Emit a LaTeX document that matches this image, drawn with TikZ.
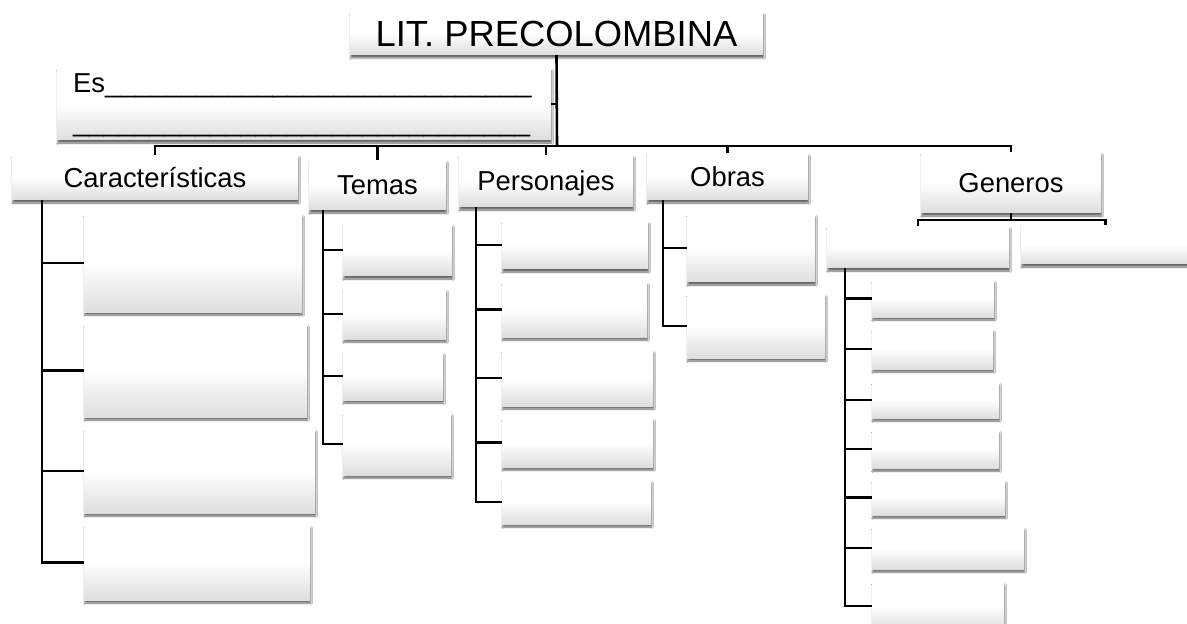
\documentclass[tikz,border=0pt]{standalone}
\usepackage{fontspec}
\setmainfont{Liberation Sans}
\usetikzlibrary{shadows.blur}
\newcommand\bx[7][]{\node[box, minimum width={(#5-#3)*1bp}, minimum height={(#6-#4)*1bp}, anchor=north west, #1] (#2) at (#3,#4) {#7};}
\begin{document}
\begin{tikzpicture}[x=1bp,y=-1bp,
  box/.style={shade, top color=white, bottom color=black!13, middle color=white,
    inner sep=0pt, outer sep=0pt,
    blur shadow={shadow xshift=0.8bp, shadow yshift=-3bp, shadow blur radius=1.8bp, shadow opacity=60}},
  lbl/.style={font=\fontsize{27.5}{33}\selectfont, text height=19.7bp, text depth=0bp},
  big/.style={font=\fontsize{36.5}{40}\selectfont, text height=26.1bp, text depth=0bp},
  conn/.style={line width=2.6bp, black}]
\useasboundingbox[fill=white] (0,0) rectangle (1187,624);
% main boxes
\bx[big]{title}{350}{12}{763}{55}{LIT. PRECOLOMBINA}
\bx{es}{57}{68}{551}{140}{}
\node[anchor=base west, align=left, font=\fontsize{27.5}{40}\selectfont, inner sep=0pt] (est) at (73,132)
  {Es\_\_\_\_\_\_\_\_\_\_\_\_\_\_\_\_\_\_\_\_\_\_\_\_\_\_\_\_\\
   \_\_\_\_\_\_\_\_\_\_\_\_\_\_\_\_\_\_\_\_\_\_\_\_\_\_\_\_\_\_};
\bx[lbl]{car}{12}{155}{298}{200}{Características}
\bx[lbl]{tem}{309}{160}{446}{210}{Temas}
\bx[lbl]{per}{459}{155}{633}{207}{Personajes}
\bx[lbl]{obr}{647}{153}{808}{200}{Obras}
\bx[lbl]{gen}{921}{152}{1101}{213}{Generos}
% Caracteristicas children
\bx{c1}{84}{214}{302}{312}{}
\bx{c2}{84}{324}{307}{417}{}
\bx{c3}{84}{429}{315}{513}{}
\bx{c4}{84}{525}{310}{600}{}
% Temas children
\bx{t1}{343}{224}{452}{276}{}
\bx{t2}{343}{289}{446}{339}{}
\bx{t3}{343}{352}{443}{400}{}
\bx{t4}{343}{413}{451}{475}{}
% Personajes children
\bx{p1}{502}{221}{648}{269}{}
\bx{p2}{502}{282}{647}{337}{}
\bx{p3}{502}{350}{653}{406}{}
\bx{p4}{502}{418}{653}{467}{}
\bx{p5}{502}{480}{651}{524}{}
% Obras children
\bx{o1}{687}{214}{815}{282}{}
\bx{o2}{687}{294}{825}{358}{}
% Generos children
\bx{g1}{827}{226}{1009}{268}{}
\bx{g2}{1021}{225}{1190}{264}{}
\bx{s1}{872}{280}{994}{317}{}
\bx{s2}{872}{329}{993}{369}{}
\bx{s3}{872}{382}{999}{418}{}
\bx{s4}{872}{430}{999}{468}{}
\bx{s5}{872}{480}{1005}{515}{}
\bx{s6}{872}{527}{1024}{569}{}
\bx{s7}{872}{582}{1004}{630}{}
% connectors
\coordinate (bus) at (557,146);
\draw[conn] (title.south) -- (bus);
\draw[conn] (es.east) -- (es.east -| bus);
\draw[conn] (car.north) -- (car.north |- bus) -- (gen.north |- bus) -- (gen.north);
\foreach \n in {tem,per,obr} \draw[conn] (\n.north) -- (\n.north |- bus);
% Caracteristicas trunk
\coordinate (cx) at (42,0);
\draw[conn] (car.south -| cx) |- (c4.west);
\foreach \i in {1,2,3} \draw[conn] (c\i.west -| cx) -- (c\i.west);
% Temas trunk
\coordinate (tx) at (323,0);
\draw[conn] (tem.south -| tx) |- (t4.west);
\foreach \i in {1,2,3} \draw[conn] (t\i.west -| tx) -- (t\i.west);
% Personajes trunk
\coordinate (px) at (476,0);
\draw[conn] (per.south -| px) |- (p5.west);
\foreach \i in {1,2,3,4} \draw[conn] (p\i.west -| px) -- (p\i.west);
% Obras trunk
\coordinate (ox) at (663,0);
\draw[conn] (obr.south -| ox) |- (o2.west);
\draw[conn] (o1.west -| ox) -- (o1.west);
% Generos bracket
\coordinate (gb) at (0,220);
\draw[conn] (gen.south) -- (gen.south |- gb);
\draw[conn] (g1.north) -- (g1.north |- gb) -- (g2.north |- gb) -- (g2.north);
% Generos sub trunk
\coordinate (sx) at (845,0);
\draw[conn] (g1.south -| sx) |- (s7.west);
\foreach \i in {1,...,6} \draw[conn] (s\i.west -| sx) -- (s\i.west);
\end{tikzpicture}
\end{document}
